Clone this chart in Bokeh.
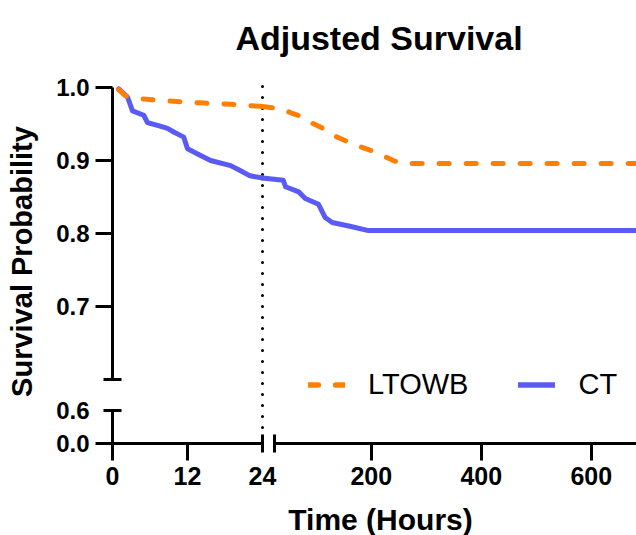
from bokeh.plotting import figure
from bokeh.models import (LinearAxis, FixedTicker, CustomJSTickFormatter, Label,
                          Legend, LegendItem)
from bokeh.embed import file_html
from bokeh.resources import INLINE

# ---------------- data ----------------
title_text = "Adjusted Survival"
x_title = "Time (Hours)"
y_title = "Survival Probability"
series_names = ["LTOWB", "CT"]

ltowb_t = [1, 2, 4, 8, 14, 19, 24, 35, 55, 70, 90, 110, 130, 150, 175, 195, 220, 240, 255, 680]
ltowb_s = [0.997, 0.989, 0.985, 0.982, 0.979, 0.977, 0.974, 0.971, 0.965, 0.961, 0.952, 0.945,
           0.935, 0.928, 0.920, 0.915, 0.907, 0.900, 0.896, 0.896]

ct_t = [1, 2.4, 3.2, 5, 5.6, 7.2, 8.8, 9.8, 11.4, 12, 14.1, 15.7, 18.9, 20.5, 22, 24,
        40, 44, 68, 80, 104, 116, 129, 161, 195, 680]
ct_s = [0.998, 0.987, 0.968, 0.962, 0.952, 0.948, 0.944, 0.939, 0.932, 0.916, 0.907, 0.900,
        0.893, 0.886, 0.879, 0.876, 0.873, 0.864, 0.857, 0.848, 0.840, 0.822, 0.815, 0.810,
        0.804, 0.804]

x_ticks_early = [0, 12]
x_break = 24
x_ticks_late = [200, 400, 600]
x_end = 700
y_ticks_main = [0.7, 0.8, 0.9, 1.0]
y_break = 0.6
y_ticks_low = [0.0]

# ---------------- broken-axis geometry (screen px per unit) ----------------
W, H = 636, 535
PX_EARLY = 6.25
PX_LATE = 0.55
X_GAP = 12
PX_Y = 730.0
Y_GAP = 31
Y_LOW = 33
X_START = x_break * PX_EARLY + X_GAP
ORIGIN_X, TOP_Y = 112, 87          # where (0 h, 1.0) sits on the canvas


def tx(h):
    return h * PX_EARLY if h <= x_break else X_START + (h - x_break) * PX_LATE


L6 = y_break - Y_GAP / PX_Y        # top of the lower (0 - 0.6) segment
L0 = L6 - Y_LOW / PX_Y             # bottom of the lower segment


def ty(v):
    return v if v > y_break else L0 + v / y_break * (L6 - L0)


def ty_low(v):
    return L0 + v / y_break * (L6 - L0)


X_LEFT, X_RIGHT = -ORIGIN_X, W - ORIGIN_X
Y_MAX = 1.0 + TOP_Y / PX_Y
Y_MIN = Y_MAX - H / PX_Y

FONT = "Liberation Sans"
ORANGE = "#FF8000"
BLUE = "#5A5AF5"

p = figure(width=W, height=H, output_backend="svg", toolbar_location=None,
           x_range=(X_LEFT, X_RIGHT), y_range=(Y_MIN, Y_MAX),
           x_axis_type=None, y_axis_type=None,
           min_border_left=0, min_border_right=0, min_border_top=0, min_border_bottom=0)
p.outline_line_color = None
p.background_fill_color = "white"
p.border_fill_color = "white"

xfmt = CustomJSTickFormatter(args=dict(b=tx(x_break), s=X_START, pe=PX_EARLY, pl=PX_LATE, xb=x_break),
                             code="""
const h = tick <= b + 1e-6 ? tick / pe : (tick - s) / pl + xb;
return Math.round(h).toString();
""")
yfmt = CustomJSTickFormatter(args=dict(yb=y_break, l0=L0, l6=L6), code="""
const v = tick >= yb - 1e-9 ? tick : (tick - l0) / (l6 - l0) * yb;
return v.toFixed(1);
""")


def add_axis(side, loc, bounds, ticks, fmt, out, inn, standoff, line=True, labels=True,
             tick_lines=True, size="24px", label=None, label_size="28px", label_standoff=0):
    ax = LinearAxis(fixed_location=loc, bounds=bounds,
                    ticker=FixedTicker(ticks=ticks, minor_ticks=[]), formatter=fmt,
                    major_tick_out=out, major_tick_in=inn, minor_tick_out=0, minor_tick_in=0,
                    major_tick_line_width=3,
                    major_tick_line_color="black" if tick_lines else None,
                    axis_line_width=3, axis_line_color="black" if line else None,
                    major_label_standoff=standoff,
                    major_label_text_font=FONT, major_label_text_font_style="bold",
                    major_label_text_font_size=size,
                    major_label_text_alpha=1 if labels else 0,
                    major_label_text_color="black")
    if label is not None:
        ax.axis_label = label
        ax.axis_label_text_font = FONT
        ax.axis_label_text_font_style = "bold"
        ax.axis_label_text_font_size = label_size
        ax.axis_label_text_color = "black"
        ax.axis_label_standoff = label_standoff
    p.add_layout(ax, side)
    return ax


# y axes: upper segment (0.6 - 1.0) and lower segment (0.0 - 0.6)
add_axis("left", tx(0), (y_break, 1.0), y_ticks_main, yfmt, 17, 0, 6)
add_axis("left", tx(0), (y_break, 1.0), [y_break], yfmt, 9, 9, 6, line=False, labels=False)
add_axis("left", tx(0), (L0, L6), [ty_low(v) for v in y_ticks_low], yfmt, 17, 0, 6)
add_axis("left", tx(0), (L0, L6), [ty_low(y_break)], yfmt, 9, 9, 6, line=False, labels=False)
add_axis("left", tx(0), (L0, L6), [ty_low(y_break)], yfmt, 17, 0, 6, line=False, tick_lines=False)
add_axis("left", tx(0), (L0, 1.0 + 8 / PX_Y), [], yfmt, 0, 0, 0, line=False,
         label=y_title, label_size="29px", label_standoff=75)

# x axes: early segment (0 - 24 h) and late segment (24 h -)
add_axis("below", ty_low(0.0), (tx(0), tx(x_break)), [tx(h) for h in x_ticks_early], xfmt, 17, 0, 6, size="25px")
add_axis("below", ty_low(0.0), (tx(0), tx(x_break)), [tx(x_break)], xfmt, 9, 9, 14, line=False, size="25px")
add_axis("below", ty_low(0.0), (X_START, tx(x_end)), [tx(h) for h in x_ticks_late], xfmt, 17, 0, 6, size="25px")
add_axis("below", ty_low(0.0), (X_START, tx(x_end)), [X_START], xfmt, 9, 9, 14, line=False, labels=False)
add_axis("below", ty_low(0.0), (12, X_RIGHT), [], xfmt, 0, 0, 0, line=False,
         label=x_title, label_size="30px", label_standoff=59)

# dotted marker at the break
p.segment(x0=[tx(x_break)], y0=[ty_low(0.0) + 5 / PX_Y], x1=[tx(x_break)], y1=[1.0 + 6 / PX_Y],
          line_color="black", line_width=3, line_dash="0 11", line_cap="round")


def split(ts, ss):
    early = [(tx(t), ty(s)) for t, s in zip(ts, ss) if t <= x_break]
    late = [(tx(t), ty(s)) for t, s in zip(ts, ss) if t >= x_break]
    return early, late


ct_e, ct_l = split(ct_t, ct_s)
lt_e, lt_l = split(ltowb_t, ltowb_s)

blue_kw = dict(line_color=BLUE, line_width=5, line_join="round", line_cap="round")
orange_kw = dict(line_color=ORANGE, line_width=5, line_join="round", line_cap="round",
                 line_dash="10 17")
r_ct1 = p.line([a for a, b in ct_e], [b for a, b in ct_e], **blue_kw)
r_ct2 = p.line([a for a, b in ct_l], [b for a, b in ct_l], **blue_kw)
r_lt1 = p.line([a for a, b in lt_e], [b for a, b in lt_e], **orange_kw)
r_lt2 = p.line([a for a, b in lt_l], [b for a, b in lt_l], **orange_kw)

legend = Legend(items=[LegendItem(label=series_names[0], renderers=[r_lt1, r_lt2]),
                       LegendItem(label=series_names[1], renderers=[r_ct1, r_ct2])],
                orientation="horizontal", location=(308, 134),
                border_line_color=None, background_fill_alpha=0,
                padding=0, margin=0, spacing=50, glyph_width=37, glyph_height=29,
                label_standoff=23, label_height=29,
                label_text_font=FONT, label_text_font_size="29px", label_text_color="black")
p.add_layout(legend)

p.add_layout(Label(x=378.5 - ORIGIN_X, y=1.0 + (TOP_Y - 37) / PX_Y, text=title_text,
                   text_align="center", text_baseline="alphabetic", text_font=FONT,
                   text_font_style="bold", text_font_size="34px", text_color="black"))

open("out.html", "w").write(file_html(p, INLINE))
